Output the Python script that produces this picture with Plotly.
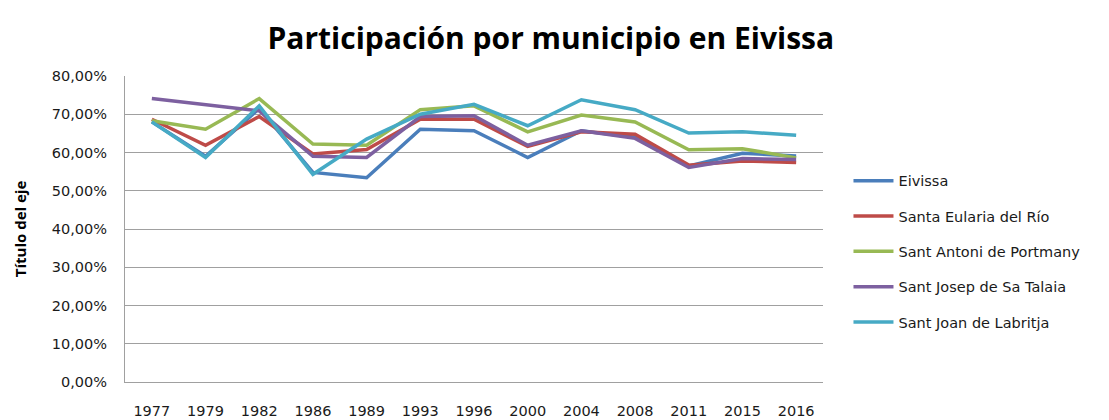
import plotly.graph_objects as go

years = ["1977", "1979", "1982", "1986", "1989", "1993", "1996", "2000", "2004", "2008", "2011", "2015", "2016"]
eivissa = [0.680, 0.590, 0.715, 0.548, 0.534, 0.661, 0.657, 0.587, 0.657, 0.640, 0.565, 0.598, 0.591]
santa_eularia = [0.687, 0.619, 0.694, 0.596, 0.608, 0.687, 0.687, 0.616, 0.654, 0.648, 0.567, 0.578, 0.574]
sant_antoni = [0.683, 0.661, 0.741, 0.622, 0.619, 0.712, 0.722, 0.654, 0.698, 0.680, 0.607, 0.610, 0.586]
sant_josep = [0.741, 0.726, 0.709, 0.590, 0.587, 0.694, 0.696, 0.619, 0.657, 0.637, 0.561, 0.584, 0.582]
sant_joan = [0.680, 0.587, 0.722, 0.543, 0.635, 0.700, 0.726, 0.670, 0.738, 0.712, 0.651, 0.654, 0.645]

names = ["Eivissa", "Santa Eularia del Río", "Sant Antoni de Portmany", "Sant Josep de Sa Talaia", "Sant Joan de Labritja"]
series = [eivissa, santa_eularia, sant_antoni, sant_josep, sant_joan]
colors = ["#4A7EBB", "#BE4B48", "#98B954", "#7D60A0", "#46AAC5"]

fig = go.Figure()
for i, (n, s, c) in enumerate(zip(names, series, colors)):
    fig.add_trace(go.Scatter(x=years, y=s, name=n, mode="lines",
                             line=dict(color=c, width=3.5), legendgroup=str(i)))

tickfont = dict(family="DejaVu Sans", size=14.5, color="#1a1a1a")

fig.update_layout(
    width=1101, height=412,
    paper_bgcolor="white", plot_bgcolor="white",
    margin=dict(l=117, r=286, t=68, b=38, autoexpand=False),
    title=dict(text="<b>Participación por municipio en Eivissa</b>", x=0.493, xanchor="center",
               y=0.925, yanchor="middle",
               font=dict(family="Open Sans", size=30, color="black")),
    font=dict(family="DejaVu Sans", size=14.5, color="#1a1a1a"),
    showlegend=True,
    legend=dict(x=1.0365, y=0.71, xanchor="left", yanchor="top",
                tracegroupgap=13.5, font=dict(family="DejaVu Sans", size=14.5, color="#1a1a1a"),
                itemwidth=40, bgcolor="rgba(0,0,0,0)"),
    separators=",.",
)
fig.update_xaxes(type="category", range=[-0.5, 12.5], showgrid=False, automargin=False,
                 showline=True, linecolor="#A0A0A0", linewidth=1,
                 ticks="", ticklabelstandoff=16, tickfont=tickfont)
fig.update_yaxes(range=[0, 0.8], dtick=0.1, tickformat=".2%", automargin=False,
                 showgrid=True, gridcolor="#A0A0A0", gridwidth=1,
                 showline=True, linecolor="#A0A0A0", linewidth=1,
                 zeroline=False, ticks="", ticklabelstandoff=14,
                 tickfont=tickfont,
                 title=dict(text="<b>Título del eje</b>",
                            font=dict(family="Open Sans", size=15, color="black"), standoff=21))

fig.write_html("out.html")
